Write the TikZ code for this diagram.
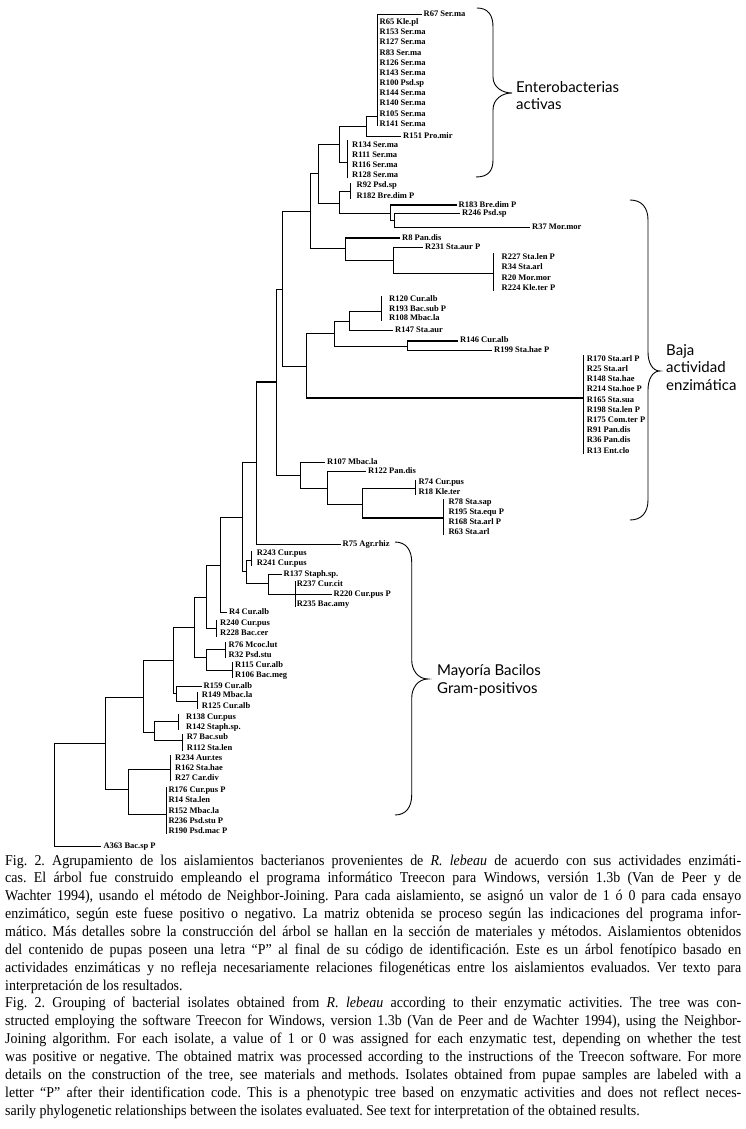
\documentclass[tikz,border=0pt]{standalone}
\usepackage{fontspec}
\setmainfont{Liberation Serif}
\newfontfamily\lblfont{Liberation Serif}
\newfontfamily\capfont[FakeStretch=0.93]{Liberation Serif}
\newfontfamily\grpfont{Lato}
\frenchspacing
\tikzset{
  br/.style={line width=0.9pt},
  thk/.style={line width=1.9pt},
  lbl/.style={anchor=west, inner xsep=2pt, inner ysep=0pt, text height=5.8pt, text depth=1.3pt,
    font=\lblfont\bfseries\fontsize{8.5}{9}\selectfont},
  grp/.style={anchor=west, align=left, inner sep=0pt, font=\grpfont\fontsize{15}{17.5}\selectfont},
  capl/.style={anchor=base west, inner sep=0pt, font=\capfont\fontsize{15}{17.86}\selectfont},
  bracel/.style={line width=0.9pt}
}
\newcommand\jl[1]{\makebox[736pt][s]{#1}}
\begin{document}
\begin{tikzpicture}[x=1pt,y=-1pt]
\fill[white] (0,0) rectangle (746,1129);
\path[use as bounding box] (0,0) rectangle (746,1129);

% ---------- Enterobacterias cluster ----------
\coordinate (b1t) at (377,14);
\coordinate (b1b) at (377,126.5);
\coordinate (b1) at (377,116.7);
\node[lbl] (l67) at (421.5,14) {R67 Ser.ma};
\draw[br] (b1t) -- (b1b);
\draw[br] (b1t) -- (l67.west);
\node[lbl] (l65) at (377.5,22) {R65 Kle.pl};
\node[lbl] (l153) at (377.5,32.5) {R153 Ser.ma};
\node[lbl] (l127) at (377.5,42.5) {R127 Ser.ma};
\node[lbl] (l83) at (377.5,53) {R83 Ser.ma};
\node[lbl] (l126) at (377.5,63) {R126 Ser.ma};
\node[lbl] (l143) at (377.5,73) {R143 Ser.ma};
\node[lbl] (l100) at (377.5,83) {R100 Psd.sp};
\node[lbl] (l144) at (377.5,93.5) {R144 Ser.ma};
\node[lbl] (l140) at (377.5,103.5) {R140 Ser.ma};
\node[lbl] (l105) at (377.5,114) {R105 Ser.ma};
\node[lbl] (l141) at (377.5,124) {R141 Ser.ma};

\coordinate (n366) at (366,126.3);
\node[lbl] (l151) at (401,136) {R151 Pro.mir};
\draw[br] (n366) |- (b1);
\draw[br] (n366) |- (l151.west);

\coordinate (b2t) at (347.3,140);
\coordinate (b2b) at (347.3,178);
\coordinate (b2) at (347.3,162);
\draw[br] (b2t) -- (b2b);
\node[lbl] (l134) at (350,145) {R134 Ser.ma};
\node[lbl] (l111) at (350,155) {R111 Ser.ma};
\node[lbl] (l116) at (350,165.5) {R116 Ser.ma};
\node[lbl] (l128) at (350,175.5) {R128 Ser.ma};
\coordinate (n339a) at (339.3,144);
\draw[br] (n339a) |- (n366);
\draw[br] (n339a) |- (b2);

\coordinate (n318) at (318.3,173.3);
\coordinate (n339b) at (339.3,203);
\draw[br] (n318) |- (n339a);
\draw[br] (n318) |- (n339b);
\coordinate (b3t) at (350,183);
\coordinate (b3b) at (350,199);
\coordinate (b3) at (350,191);
\draw[br] (b3t) -- (b3b);
\node[lbl] (l92) at (354.5,185.5) {R92 Psd.sp};
\node[lbl] (l182) at (354.5,196.5) {R182 Bre.dim P};
\coordinate (nA) at (390,213);
\coordinate (nB) at (394,220);
\node[lbl] (l183) at (456.5,205) {R183 Bre.dim P};
\node[lbl] (l246) at (460,213) {R246 Psd.sp};
\node[lbl] (l37) at (530,227) {R37 Mor.mor};
\draw[br] (n339b) |- (b3);
\draw[br] (n339b) |- (nA);
\draw[br] (nA) |- (l183.west);
\draw[thk] (nA |- l183.west) -- (l183.west);
\draw[br] (nA) |- (nB);
\draw[br] (nB) |- (l246.west);
\draw[br] (nB) |- (l37.west);

\coordinate (n310) at (310,211);
\coordinate (n345) at (345,248.7);
\draw[br] (n310) |- (n318);
\draw[br] (n310) |- (n345);
\node[lbl] (l8) at (400,238) {R8 Pan.dis};
\coordinate (nC) at (393,260);
\draw[br] (n345) |- (l8.west);
\draw[thk] (n345 |- l8.west) -- (l8.west);
\draw[br] (n345) |- (nC);
\node[lbl] (l231) at (423,247) {R231 Sta.aur P};
\coordinate (b4t) at (493.3,253);
\coordinate (b4b) at (493.3,291);
\coordinate (b4) at (493.3,273.3);
\draw[br] (b4t) -- (b4b);
\node[lbl] (l227) at (499.5,257) {R227 Sta.len P};
\node[lbl] (l34) at (499.5,267) {R34 Sta.arl};
\node[lbl] (l20) at (499.5,278) {R20 Mor.mor};
\node[lbl] (l224) at (499.5,288) {R224 Kle.ter P};
\draw[br] (nC) |- (l231.west);
\draw[br] (nC) |- (b4);

% ---------- middle ----------
\coordinate (n282) at (282.7,289.3);
\coordinate (n306) at (306.5,366.7);
\draw[br] (n282) |- (n310);
\draw[br] (n282) |- (n306);
\coordinate (n334) at (334,333.3);
\coordinate (b5t) at (583.3,355);
\coordinate (b5b) at (583.3,454);
\coordinate (b5) at (583.3,398.3);
\draw[br] (b5t) -- (b5b);
\draw[br] (n306) |- (n334);
\draw[br] (n306) |- (b5);
\draw[thk] (n306 |- b5) -- (b5);
\node[lbl] (l170) at (584.7,359) {R170 Sta.arl P};
\node[lbl] (l25) at (584.7,369.2) {R25 Sta.arl};
\node[lbl] (l148) at (584.7,379.4) {R148 Sta.hae};
\node[lbl] (l214) at (584.7,389.6) {R214 Sta.hoe P};
\node[lbl] (l165) at (584.7,399.8) {R165 Sta.sua};
\node[lbl] (l198) at (584.7,410) {R198 Sta.len P};
\node[lbl] (l175) at (584.7,420.2) {R175 Com.ter P};
\node[lbl] (l91) at (584.7,430.4) {R91 Pan.dis};
\node[lbl] (l36) at (584.7,440.6) {R36 Pan.dis};
\node[lbl] (l13) at (584.7,450.8) {R13 Ent.clo};

\coordinate (n349) at (349,321.7);
\coordinate (n407) at (407.3,346.7);
\draw[br] (n334) |- (n349);
\draw[br] (n334) |- (n407);
\coordinate (b6t) at (381.7,296);
\coordinate (b6b) at (381.7,321);
\coordinate (b6) at (381.7,311.7);
\draw[br] (b6t) -- (b6b);
\node[lbl] (l120) at (387,299) {R120 Cur.alb};
\node[lbl] (l193) at (387,309) {R193 Bac.sub P};
\node[lbl] (l108) at (387,318.5) {R108 Mbac.la};
\node[lbl] (l147) at (393,330) {R147 Sta.aur};
\draw[br] (n349) |- (b6);
\draw[br] (n349) |- (l147.west);
\node[lbl] (l146) at (458,340.7) {R146 Cur.alb};
\node[lbl] (l199) at (492,350) {R199 Sta.hae P};
\draw[br] (n407) |- (l146.west);
\draw[thk] (n407 |- l146.west) -- (l146.west);
\draw[br] (n407) |- (l199.west);

\coordinate (n276) at (276,382);
\coordinate (n300) at (300,475);
\draw[br] (n276) |- (n282);
\draw[br] (n276) |- (n300);
\node[lbl] (l107) at (325,462.7) {R107 Mbac.la};
\coordinate (nD) at (327.3,488);
\draw[br] (n300) |- (l107.west);
\draw[br] (n300) |- (nD);
\node[lbl] (l122) at (366,471.7) {R122 Pan.dis};
\coordinate (nE) at (362.7,504);
\draw[br] (nD) |- (l122.west);
\draw[br] (nD) |- (nE);
\coordinate (b7t) at (415,479.5);
\coordinate (b7b) at (415,495);
\coordinate (b7) at (415,488.3);
\draw[br] (b7t) -- (b7b);
\node[lbl] (l74) at (416.3,482) {R74 Cur.pus};
\node[lbl] (l18) at (416.3,492) {R18 Kle.ter};
\coordinate (b8t) at (443.3,499);
\coordinate (b8b) at (443.3,535);
\coordinate (b8) at (443.3,518.3);
\draw[br] (b8t) -- (b8b);
\node[lbl] (l78) at (446.3,502) {R78 Sta.sap};
\node[lbl] (l195) at (446.3,512) {R195 Sta.equ P};
\node[lbl] (l168) at (446.3,522) {R168 Sta.arl P};
\node[lbl] (l63) at (446.3,532) {R63 Sta.arl};
\draw[br] (nE) |- (b7);
\draw[br] (nE) |- (b8);
\draw[thk] (nE |- b8) -- (b8);

% ---------- lower part ----------
\coordinate (nF) at (256,462.8);
\draw[br] (nF) |- (n276);
\draw[thk] (nF |- n276) -- (n276);
\node[lbl] (l75) at (340.5,544) {R75 Agr.rhiz};
\draw[br] (nF) |- (l75.west);
\coordinate (nG) at (242.7,517.5);
\coordinate (nU) at (246.7,571.7);
\draw[br] (nG) |- (nF);
\draw[br] (nG) |- (nU);
\coordinate (b9t) at (251.7,550.5);
\coordinate (b9b) at (251.7,566);
\coordinate (b9) at (251.7,560);
\draw[br] (b9t) -- (b9b);
\node[lbl] (l243) at (254.7,553) {R243 Cur.pus};
\node[lbl] (l241) at (254.7,563.5) {R241 Cur.pus};
\coordinate (nV) at (268.3,583.7);
\draw[br] (nU) |- (b9);
\draw[br] (nU) |- (nV);
\node[lbl] (l137) at (281.5,574) {R137 Staph.sp.};
\coordinate (nH) at (295,594);
\draw[br] (nV) |- (l137.west);
\draw[br] (nV) |- (nH);
\coordinate (bHt) at (295,581);
\coordinate (bHb) at (295,607);
\draw[br] (bHt) -- (bHb);
\node[lbl] (l237) at (294.7,584) {R237 Cur.cit};
\node[lbl] (l235) at (294.7,604) {R235 Bac.amy};
\node[lbl] (l220) at (331.5,594) {R220 Cur.pus P};
\draw[br] (nH) -- (l220.west);

\coordinate (nI) at (220,565);
\draw[br] (nI) |- (nG);
\draw[thk] (nI |- nG) -- (nG);
\node[lbl] (l4) at (227,612) {R4 Cur.alb};
\draw[br] (nI) |- (l4.west);
\coordinate (nJ) at (206.7,597.5);
\coordinate (b10t) at (216,620);
\coordinate (b10b) at (216,637);
\coordinate (b10) at (216,628.3);
\draw[br] (b10t) -- (b10b);
\node[lbl] (l240) at (218,623.5) {R240 Cur.pus};
\node[lbl] (l228) at (218,633.5) {R228 Bac.cer};
\draw[br] (nJ) |- (nI);
\draw[br] (nJ) |- (b10);
\coordinate (nL) at (194,627.5);
\coordinate (nK) at (206,657);
\draw[br] (nL) |- (nJ);
\draw[br] (nL) |- (nK);
\coordinate (b11t) at (225,642);
\coordinate (b11b) at (225,658);
\coordinate (b11) at (225,649.3);
\draw[br] (b11t) -- (b11b);
\node[lbl] (l76) at (226.5,645) {R76 Mcoc.lut};
\node[lbl] (l32) at (226.5,655) {R32 Psd.stu};
\coordinate (b12t) at (232.7,662);
\coordinate (b12b) at (232.7,678);
\coordinate (b12) at (232.7,670);
\draw[br] (b12t) -- (b12b);
\node[lbl] (l115) at (233,665.5) {R115 Cur.alb};
\node[lbl] (l106) at (233,675.5) {R106 Bac.meg};
\draw[br] (nK) |- (b11);
\draw[br] (nK) |- (b12);
\coordinate (nQ) at (173,660.5);
\coordinate (nP) at (176,693.5);
\draw[br] (nQ) |- (nL);
\draw[br] (nQ) |- (nP);
\node[lbl] (l159) at (201.5,686) {R159 Cur.alb};
\coordinate (b13t) at (197.3,692);
\coordinate (b13b) at (197.3,709);
\coordinate (b13) at (197.3,701);
\draw[br] (b13t) -- (b13b);
\node[lbl] (l149) at (199.7,695.5) {R149 Mbac.la};
\node[lbl] (l125) at (199.7,706) {R125 Cur.alb};
\draw[br] (nP) |- (l159.west);
\draw[br] (nP) |- (b13);
\coordinate (nR) at (143.3,697);
\coordinate (nX) at (154,732.7);
\draw[br] (nR) |- (nQ);
\draw[br] (nR) |- (nX);
\coordinate (b14t) at (178.3,714);
\coordinate (b14b) at (178.3,730);
\coordinate (b14) at (178.3,721.7);
\draw[br] (b14t) -- (b14b);
\node[lbl] (l138) at (184,717) {R138 Cur.pus};
\node[lbl] (l142) at (184,727.5) {R142 Staph.sp.};
\coordinate (b15t) at (182.7,734);
\coordinate (b15b) at (182.7,751);
\coordinate (b15) at (182.7,740);
\draw[br] (b15t) -- (b15b);
\node[lbl] (l7) at (184.7,737.5) {R7 Bac.sub};
\node[lbl] (l112) at (184.7,748) {R112 Sta.len};
\draw[br] (nX) |- (b14);
\draw[br] (nX) |- (b15);
\coordinate (nT) at (105,743.8);
\coordinate (nS) at (128.3,789.3);
\draw[br] (nT) |- (nR);
\draw[br] (nT) |- (nS);
\coordinate (b16t) at (170.7,755);
\coordinate (b16b) at (170.7,781);
\coordinate (b16) at (170.7,769.3);
\draw[br] (b16t) -- (b16b);
\node[lbl] (l234) at (173,758) {R234 Aur.tes};
\node[lbl] (l162) at (173,768) {R162 Sta.hae};
\node[lbl] (l27) at (173,778) {R27 Car.div};
\coordinate (b17t) at (166,787);
\coordinate (b17b) at (166,834);
\coordinate (b17) at (166,814.3);
\draw[br] (b17t) -- (b17b);
\node[lbl] (l176) at (166.3,790) {R176 Cur.pus P};
\node[lbl] (l14) at (166.3,800.5) {R14 Sta.len};
\node[lbl] (l152) at (166.3,811) {R152 Mbac.la};
\node[lbl] (l236) at (166.3,821) {R236 Psd.stu P};
\node[lbl] (l190) at (166.3,831) {R190 Psd.mac P};
\draw[br] (nS) |- (b16);
\draw[br] (nS) |- (b17);
\coordinate (root) at (54,795);
\node[lbl] (l363) at (101.3,846.7) {A363 Bac.sp P};
\draw[br] (root) |- (nT);
\draw[br] (root) |- (l363.west);

% ---------- braces and group labels ----------
\draw[bracel] (477,8) .. controls (488,8) and (493,15) .. (493,27) -- (493,77)
  .. controls (493,87) and (502,93) .. (512,93) .. controls (502,93) and (493,99) .. (493,110)
  -- (493,160) .. controls (493,171) and (488,177) .. (476,177);
\node[grp] (g1) at (516,95.5) {Enterobacterias\\activas};

\draw[bracel] (630,200) .. controls (642,200) and (648,208) .. (648,220) -- (648,352)
  .. controls (648,362) and (652,371) .. (660,371) .. controls (652,371) and (648,380) .. (648,390)
  -- (648,500) .. controls (648,512) and (642,520) .. (630,520);
\node[grp] (g2) at (666,367.5) {Baja\\actividad\\enzimática};

\draw[bracel] (395,542) .. controls (406,542) and (411.7,550) .. (411.7,562) -- (411.7,660)
  .. controls (411.7,670) and (418,679) .. (428,679) .. controls (418,679) and (411.7,688) .. (411.7,698)
  -- (411.7,795) .. controls (411.7,807) and (406,815) .. (395,815);
\node[grp] (g3) at (437,680.5) {Mayoría Bacilos\\Gram-positivos};

% ---------- caption ----------
\node[capl] (c1) at (5,865) {\jl{Fig. 2. Agrupamiento de los aislamientos bacterianos provenientes de \textit{R. lebeau} de acuerdo con sus actividades enzimáti-}};
\node[capl] (c2) at (5,882.86) {\jl{cas. El árbol fue construido empleando el programa informático Treecon para Windows, versión 1.3b (Van de Peer y de}};
\node[capl] (c3) at (5,900.72) {\jl{Wachter 1994), usando el método de Neighbor-Joining. Para cada aislamiento, se asignó un valor de 1 ó 0 para cada ensayo}};
\node[capl] (c4) at (5,918.58) {\jl{enzimático, según este fuese positivo o negativo. La matriz obtenida se proceso según las indicaciones del programa infor-}};
\node[capl] (c5) at (5,936.44) {\jl{mático. Más detalles sobre la construcción del árbol se hallan en la sección de materiales y métodos. Aislamientos obtenidos}};
\node[capl] (c6) at (5,954.3) {\jl{del contenido de pupas poseen una letra “P” al final de su código de identificación. Este es un árbol fenotípico basado en}};
\node[capl] (c7) at (5,972.16) {\jl{actividades enzimáticas y no refleja necesariamente relaciones filogenéticas entre los aislamientos evaluados. Ver texto para}};
\node[capl] (c8) at (5,990.02) {interpretación de los resultados.};
\node[capl] (c9) at (5,1007.88) {\jl{Fig. 2. Grouping of bacterial isolates obtained from \textit{R. lebeau} according to their enzymatic activities. The tree was con-}};
\node[capl] (c10) at (5,1025.74) {\jl{structed employing the software Treecon for Windows, version 1.3b (Van de Peer and de Wachter 1994), using the Neighbor-}};
\node[capl] (c11) at (5,1043.6) {\jl{Joining algorithm. For each isolate, a value of 1 or 0 was assigned for each enzymatic test, depending on whether the test}};
\node[capl] (c12) at (5,1061.46) {\jl{was positive or negative. The obtained matrix was processed according to the instructions of the Treecon software. For more}};
\node[capl] (c13) at (5,1079.32) {\jl{details on the construction of the tree, see materials and methods. Isolates obtained from pupae samples are labeled with a}};
\node[capl] (c14) at (5,1097.18) {\jl{letter “P” after their identification code. This is a phenotypic tree based on enzymatic activities and does not reflect neces-}};
\node[capl] (c15) at (5,1115.04) {sarily phylogenetic relationships between the isolates evaluated. See text for interpretation of the obtained results.};
\end{tikzpicture}
\end{document}
